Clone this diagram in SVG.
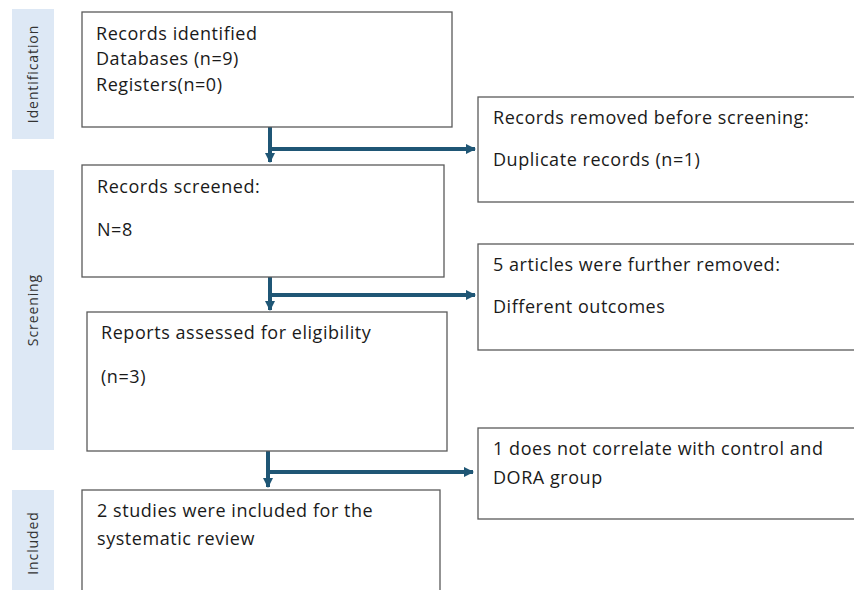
<svg xmlns="http://www.w3.org/2000/svg" width="854" height="590" viewBox="0 0 854 590">
<defs>
<style>
.box{fill:#fff;stroke:#5a5a5a;stroke-width:1.3}
.side{fill:#dde8f5}
.t{font-family:"Open Sans","Liberation Sans",sans-serif;font-size:18px;letter-spacing:0.55px;fill:#1a1a1a}
.s{font-family:"Open Sans","Liberation Sans",Arial,sans-serif;font-size:14px;letter-spacing:0.9px;fill:#333;text-anchor:middle}
.c{fill:none;stroke:#1f5675;stroke-width:4}
</style>
<marker id="ah" viewBox="0 0 10 10" refX="9" refY="5" markerWidth="2.6" markerHeight="2.6" orient="auto" markerUnits="strokeWidth">
<path d="M0,0 L10,5 L0,10 z" fill="#1f5675"/>
</marker>
</defs>
<rect width="854" height="590" fill="#fff"/>
<g id="phase-identification"><rect class="side" x="12" y="9" width="42" height="130"/><text class="s" transform="translate(38,74) rotate(-90)">Identification</text></g>
<g id="phase-screening"><rect class="side" x="12" y="170" width="42" height="280"/><text class="s" transform="translate(38,310) rotate(-90)">Screening</text></g>
<g id="phase-included"><rect class="side" x="12" y="490" width="42" height="110"/><text class="s" transform="translate(38,543) rotate(-90)">Included</text></g>

<g id="connectors">
<path class="c" d="M270,127 V162" marker-end="url(#ah)"/>
<path class="c" d="M270,149 H475" marker-end="url(#ah)"/>
<path class="c" d="M270,277 V310" marker-end="url(#ah)"/>
<path class="c" d="M270,295 H475" marker-end="url(#ah)"/>
<path class="c" d="M268,451 V487" marker-end="url(#ah)"/>
<path class="c" d="M268,472 H473" marker-end="url(#ah)"/>
</g>

<g id="records-identified"><rect class="box" x="82" y="12" width="370" height="115"/>
<text class="t" x="96" y="40">Records identified</text>
<text class="t" x="96" y="65">Databases (n=9)</text>
<text class="t" x="96" y="91">Registers(n=0)</text></g>

<g id="records-removed"><rect class="box" x="478" y="97" width="380" height="105"/>
<text class="t" x="493" y="124">Records removed before screening:</text>
<text class="t" x="493" y="166">Duplicate records (n=1)</text></g>

<g id="records-screened"><rect class="box" x="82" y="165" width="362" height="112"/>
<text class="t" x="97" y="193">Records screened:</text>
<text class="t" x="97" y="236">N=8</text></g>

<g id="further-removed"><rect class="box" x="478" y="244" width="380" height="106"/>
<text class="t" x="493" y="271">5 articles were further removed:</text>
<text class="t" x="493" y="313">Different outcomes</text></g>

<g id="reports-assessed"><rect class="box" x="87" y="312" width="360" height="139"/>
<text class="t" x="101" y="339">Reports assessed for eligibility</text>
<text class="t" x="101" y="383">(n=3)</text></g>

<g id="not-correlate"><rect class="box" x="478" y="428" width="380" height="91"/>
<text class="t" x="493" y="455">1 does not correlate with control and</text>
<text class="t" x="493" y="484">DORA group</text></g>

<g id="included"><rect class="box" x="82" y="490" width="358" height="110"/>
<text class="t" x="97" y="517">2 studies were included for the</text>
<text class="t" x="97" y="545">systematic review</text></g>
</svg>
